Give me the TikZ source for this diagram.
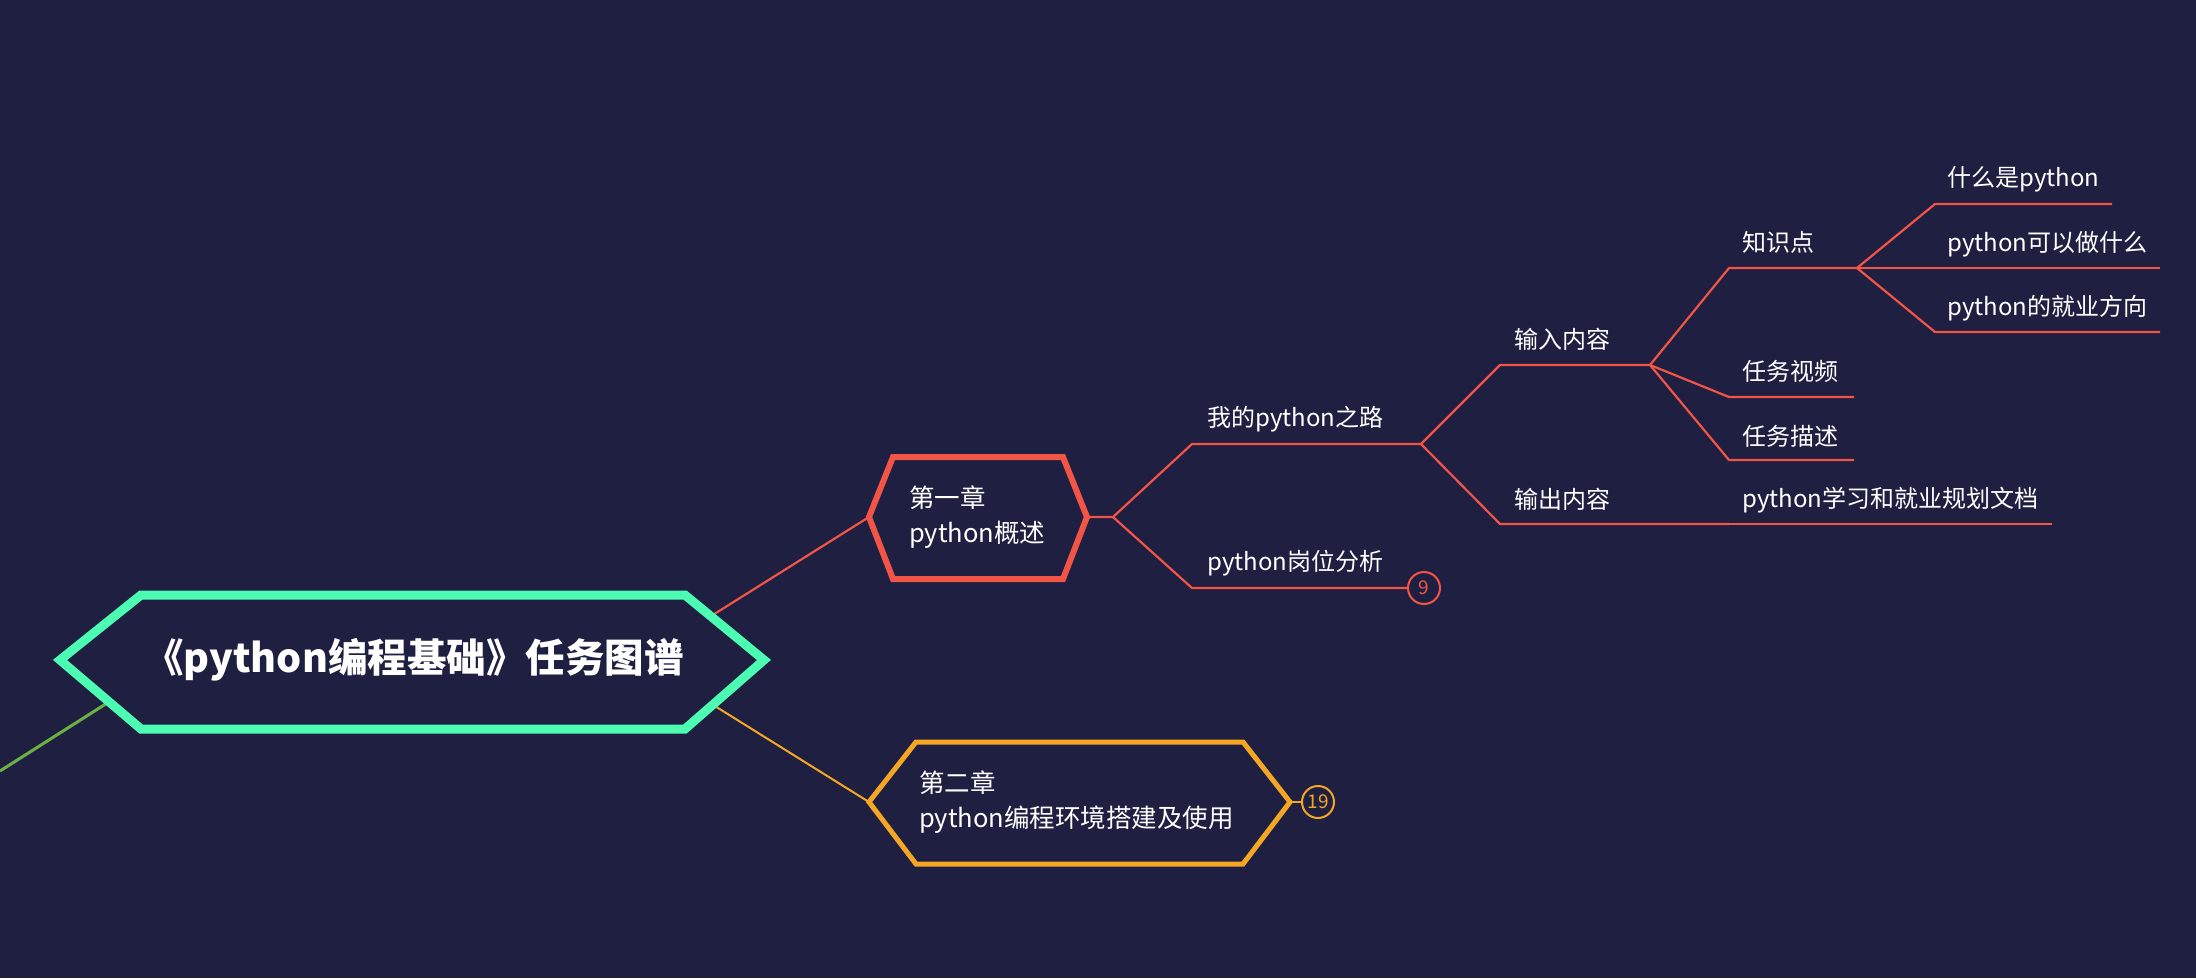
\documentclass[tikz,border=0pt]{standalone}
\usepackage{fontspec}
\setmainfont{Noto Sans CJK SC}
\definecolor{bg}{RGB}{30,31,65}
\definecolor{mint}{RGB}{75,252,178}
\definecolor{redl}{RGB}{242,84,70}
\definecolor{orng}{RGB}{245,166,35}
\definecolor{grn}{RGB}{106,176,66}
\tikzset{
  txt/.style={text=white, font=\fontsize{24}{34}\selectfont, inner sep=0pt, anchor=west, align=left},
  redline/.style={draw=redl, line width=2.2pt, line join=round},
  orline/.style={draw=orng, line width=2pt},
  grline/.style={draw=grn, line width=3pt},
  badge/.style={circle, draw=#1, line width=2pt, minimum size=32pt, inner sep=0pt, text=#1, font=\fontsize{19}{20}\selectfont, fill=bg},
}
\begin{document}
\begin{tikzpicture}[x=1pt,y=-1pt]
\fill[bg] (0,0) rectangle (2196,978);
\useasboundingbox (0,0) rectangle (2196,978);

% hub coordinates inside root
\coordinate (rootR) at (641,660);
\coordinate (rootL) at (175,660);
\coordinate (greenEnd) at (0,771);

% chapter points
\coordinate (c1L) at (869,517);
\coordinate (c1R) at (1087,517);
\coordinate (c2L) at (869,802);
\coordinate (c2R) at (1290,802);

% connectors from root
\draw[grline] (rootL) -- (greenEnd);
\draw[redline] (rootR) -- (c1L);
\draw[orline] (rootR) -- (c2L);

% root hexagon
\draw[draw=mint, line width=9pt, fill=bg, line join=miter]
  (60,660) -- (141,595) -- (685,595) -- (764,660) -- (685,729) -- (141,729) -- cycle;
\node[text=white, font=\fontsize{39.5}{44}\selectfont\bfseries, inner sep=0pt] (root) at (414,660) {《python编程基础》任务图谱};

% chapter 1 hexagon
\draw[draw=redl, line width=6pt, fill=bg, line join=miter]
  (c1L) -- (893,457) -- (1063,457) -- (c1R) -- (1063,579) -- (893,579) -- cycle;
\node[txt, font=\fontsize{25.5}{35}\selectfont] (ch1) at (909,517) {第一章\\python概述};

% chapter 2 hexagon
\draw[draw=orng, line width=5pt, fill=bg, line join=miter]
  (c2L) -- (916,742) -- (1243,742) -- (c2R) -- (1243,864) -- (916,864) -- cycle;
\node[txt, font=\fontsize{25.5}{35}\selectfont] (ch2) at (919,802) {第二章\\python编程环境搭建及使用};
\node[badge=orng] (b19) at (1318,802) {19};
\draw[orline] (c2R) -- (b19.west);

% level 2 under chapter 1
\coordinate (f1) at (1113,517);
\coordinate (luS) at (1192,444); \coordinate (luE) at (1421,444);
\coordinate (gwS) at (1192,588);
\node[txt] (lu) at (1207,419) {我的python之路};
\node[txt] (gw) at (1207,563) {python岗位分析};
\node[badge=redl] (b9) at (1424,588) {9};
\draw[redline] (c1R) -- (f1) -- (luS) -- (luE);
\draw[redline] (f1) -- (gwS) -- (b9.west);

% level 3
\coordinate (inS) at (1500,365); \coordinate (inE) at (1650,365);
\coordinate (outS) at (1500,524);
\node[txt] (in) at (1514,339) {输入内容};
\node[txt] (out) at (1514,499) {输出内容};
\draw[redline] (luE) -- (inS) -- (inE);
\draw[redline] (luE) -- (outS) -- (1729,524);

% level 4
\coordinate (zsS) at (1729,268); \coordinate (zsE) at (1857,268);
\coordinate (spS) at (1729,397); \coordinate (spE) at (1854,397);
\coordinate (msS) at (1729,460); \coordinate (msE) at (1854,460);
\coordinate (wdS) at (1729,524); \coordinate (wdE) at (2052,524);
\node[txt] (zs) at (1742,242) {知识点};
\node[txt] (sp) at (1742,371) {任务视频};
\node[txt] (ms) at (1742,436) {任务描述};
\node[txt] (wd) at (1742,500) {python学习和就业规划文档};
\draw[redline] (inE) -- (zsS) -- (zsE);
\draw[redline] (inE) -- (spS) -- (spE);
\draw[redline] (inE) -- (msS) -- (msE);
\draw[redline] (wdS) -- (wdE);

% level 5
\coordinate (k1S) at (1935,204); \coordinate (k1E) at (2112,204);
\coordinate (k2E) at (2160,268);
\coordinate (k3S) at (1935,332); \coordinate (k3E) at (2160,332);
\node[txt] (k1) at (1947,179) {什么是python};
\node[txt] (k2) at (1947,244) {python可以做什么};
\node[txt] (k3) at (1947,308) {python的就业方向};
\draw[redline] (zsE) -- (k1S) -- (k1E);
\draw[redline] (zsE) -- (k2E);
\draw[redline] (zsE) -- (k3S) -- (k3E);
\end{tikzpicture}
\end{document}
